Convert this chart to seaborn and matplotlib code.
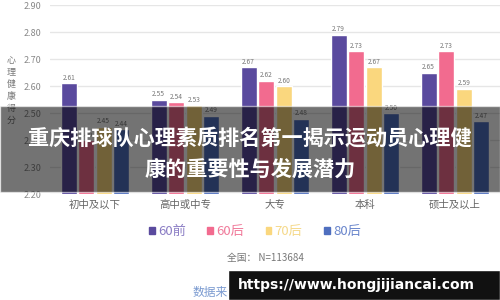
import matplotlib
matplotlib.use("Agg")
import matplotlib.pyplot as plt
import seaborn as sns
import pandas as pd
from matplotlib.patches import Rectangle

categories = ["初中及以下", "高中或中专", "大专", "本科", "硕士及以上"]
series = ["60前", "60后", "70后", "80后"]
v_60q = [2.61, 2.55, 2.67, 2.79, 2.65]
v_60h = [2.40, 2.54, 2.62, 2.73, 2.73]
v_70h = [2.45, 2.53, 2.60, 2.67, 2.59]
v_80h = [2.44, 2.49, 2.48, 2.50, 2.47]
yticks = [2.20, 2.30, 2.40, 2.50, 2.60, 2.70, 2.80, 2.90]
colors = ["#5a4a9e", "#f26b8f", "#fad77e", "#4f6fbf"]

rows = []
for s, vals in zip(series, [v_60q, v_60h, v_70h, v_80h]):
    for c, v in zip(categories, vals):
        rows.append({"cat": c, "series": s, "val": v})
df = pd.DataFrame(rows)

sns.set_theme(style="white")
plt.rcParams['font.family'] = ['Noto Sans CJK SC', 'DejaVu Sans']

fig = plt.figure(figsize=(5, 3), dpi=100)
ax = fig.add_axes([0.10, 0.353, 0.90, 0.63])
sns.barplot(data=df, x="cat", y="val", hue="series", palette=colors, saturation=1,
            width=0.78, gap=0.08, ax=ax, legend=False, zorder=3)
ax.set_ylim(2.2, 2.9)
ax.set_yticks(yticks)
ax.set_yticklabels([f"{t:.2f}" for t in yticks], fontsize=6.5, color="#888888")
ax.tick_params(axis="x", labelsize=7.5, colors="#666666", length=0, pad=4)
ax.tick_params(axis="y", length=0, pad=6)
ax.grid(axis="y", color="#e6e6e6", linewidth=1, zorder=0)
for sp in ax.spines.values():
    sp.set_visible(False)
ax.set_xlabel("")
ax.set_ylabel("")

for cont in ax.containers:
    labels = [f"{v:.2f}" for v in cont.datavalues]
    ax.bar_label(cont, labels=labels, fontsize=4.8, color="#777777", padding=1)

fig.text(0.022, 0.815, "\n".join("心理健康得分"), fontsize=6.5, color="#777777",
         ha="center", va="top", linespacing=1.45)

# legend
handles = [Rectangle((0, 0), 1, 1, color=c) for c in colors]
leg = fig.legend(handles, series, loc="center", bbox_to_anchor=(0.51, 0.227), ncol=4,
                 frameon=False, fontsize=9.5, handlelength=0.45, handleheight=0.45,
                 handletextpad=0.25, columnspacing=1.6)
for t, c in zip(leg.get_texts(), ["#8a7cc4", "#f07a9a", "#f5d98a", "#6a86cc"]):
    t.set_color(c)

fig.text(0.53, 0.14, "全国： N=113684", fontsize=7, color="#777777", ha="center", va="center")
fig.text(0.385, 0.025, "数据来源", fontsize=8.5, color="#7a9ad0", ha="left", va="center")

# dark banner with title
fig.patches.append(Rectangle((0, 0.36), 1, 0.287, transform=fig.transFigure,
                             facecolor="black", alpha=0.55, zorder=10))
fig.text(0.5, 0.54, "重庆排球队心理素质排名第一揭示运动员心理健", fontsize=15.2, color="white",
         fontweight="bold", ha="center", va="center", zorder=11)
fig.text(0.5, 0.435, "康的重要性与发展潜力", fontsize=15.2, color="white",
         fontweight="bold", ha="center", va="center", zorder=11)

# watermark box
fig.patches.append(Rectangle((0.456, 0), 0.544, 0.1, transform=fig.transFigure,
                             facecolor="#111111", zorder=10))
fig.text(0.476, 0.05, "https://www.hongjijiancai.com", fontsize=10, color="white",
         fontweight="bold", ha="left", va="center", zorder=11, family="DejaVu Sans")

fig.savefig("out.png", dpi=100)
